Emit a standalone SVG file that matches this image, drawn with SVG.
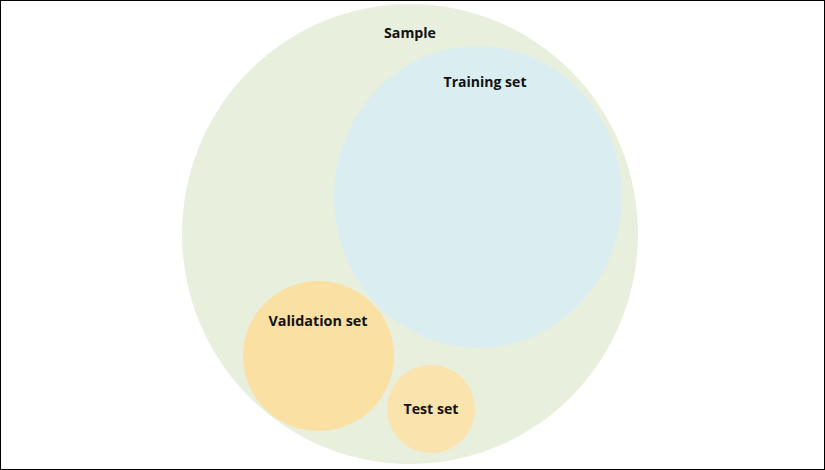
<svg xmlns="http://www.w3.org/2000/svg" width="825" height="470" viewBox="0 0 825 470">
<style>
.lbl{font-family:"Open Sans","Liberation Sans",sans-serif;font-weight:bold;font-size:14px;fill:#111;text-anchor:middle}
</style>
<rect x="0" y="0" width="825" height="470" fill="#ffffff"/>
<g id="sample">
<ellipse cx="410" cy="234" rx="228" ry="230" fill="#E8EFDD"/>
<text class="lbl" x="410" y="38" textLength="52" lengthAdjust="spacingAndGlyphs">Sample</text>
</g>
<g id="training">
<ellipse cx="478" cy="197" rx="144" ry="151" fill="#DAEDF1"/>
<text class="lbl" x="485" y="87" textLength="83" lengthAdjust="spacingAndGlyphs">Training set</text>
</g>
<g id="validation">
<ellipse cx="318.5" cy="356" rx="75.5" ry="75" fill="#FAE0A2"/>
<text class="lbl" x="318" y="326" textLength="99" lengthAdjust="spacingAndGlyphs">Validation set</text>
</g>
<g id="test">
<ellipse cx="431" cy="409" rx="44" ry="44" fill="#FBE3AD"/>
<text class="lbl" x="431" y="414" textLength="55" lengthAdjust="spacingAndGlyphs">Test set</text>
</g>
<g id="connectors"></g>
<rect x="0.5" y="0.5" width="824" height="469" fill="none" stroke="#000" stroke-width="1"/>
</svg>
